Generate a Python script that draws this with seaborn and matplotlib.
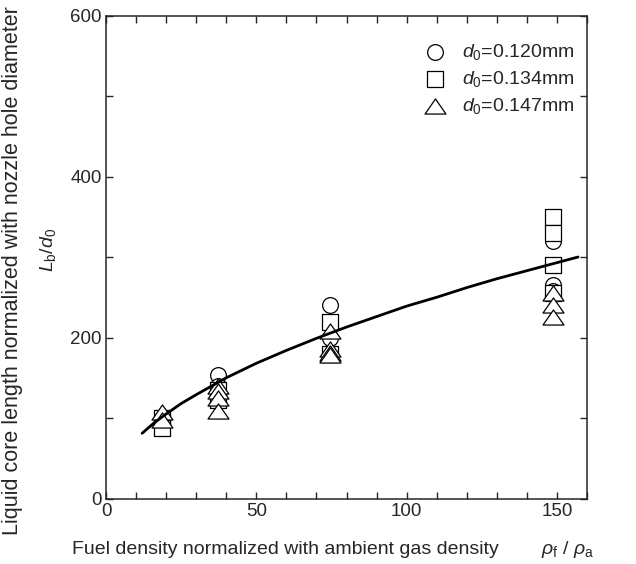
import matplotlib
matplotlib.use("Agg")
import numpy as np
import pandas as pd
import matplotlib.pyplot as plt
from matplotlib.path import Path
import seaborn as sns

# data (rho_f / rho_a , L_b / d_0)
circle_x = [18.6, 37.2, 37.2, 74.4, 74.4, 148.8, 148.8, 148.8]
circle_y = [95, 153, 140, 241, 200, 320, 265, 258]
square_x = [18.6, 18.6, 37.2, 37.2, 74.4, 74.4, 148.8, 148.8, 148.8, 148.8]
square_y = [100, 87, 135, 122, 219, 180, 350, 330, 290, 255]
tri_x = [18.6, 18.6, 37.2, 37.2, 37.2, 37.2, 74.4, 74.4, 74.4, 74.4, 148.8, 148.8, 148.8]
tri_y = [108, 97, 140, 133, 125, 109, 208, 186, 181, 178, 255, 240, 225]

# correlation curve
curve_x = [12, 16, 20, 25, 30, 40, 50, 60, 70, 80, 90, 100, 110, 120, 130, 140, 150, 157]
curve_y = [81, 94, 105, 118, 129, 150, 168, 184, 199, 213, 226, 239, 250, 262, 273, 283, 293, 300]

labels = [r"$d_0$=0.120mm", r"$d_0$=0.134mm", r"$d_0$=0.147mm"]

sns.set_style("ticks")
plt.rcParams["font.family"] = ["Liberation Sans", "DejaVu Sans"]
plt.rcParams["mathtext.fontset"] = "custom"
plt.rcParams["mathtext.rm"] = "Liberation Sans"
plt.rcParams["mathtext.it"] = "Liberation Sans:italic"

fig = plt.figure(figsize=(6.36, 5.64), dpi=100)
ax = fig.add_axes([0.1667, 0.1161, 0.7563, 0.8564])

tri = Path([(-1, -0.72), (1, -0.72), (0, 0.72), (-1, -0.72)], closed=True)
kw = dict(color="white", edgecolor="black", linewidth=0.9, ax=ax, zorder=3)
sns.scatterplot(x=circle_x, y=circle_y, marker="o", s=128, label=labels[0], **kw)
sns.scatterplot(x=square_x, y=square_y, marker="s", s=128, label=labels[1], **kw)
sns.scatterplot(x=tri_x, y=tri_y, marker=tri, s=228, label=labels[2], **kw)

sns.lineplot(x=curve_x, y=curve_y, color="black", linewidth=2, ax=ax, zorder=4)

ax.set_xlim(0, 160)
ax.set_ylim(0, 600)
ax.set_xticks(np.arange(0, 161, 10))
ax.set_xticklabels([str(v) if v % 50 == 0 else "" for v in range(0, 161, 10)])
ax.set_yticks(np.arange(0, 601, 100))
ax.set_yticklabels([str(v) if v % 200 == 0 else "" for v in range(0, 601, 100)])
ax.tick_params(direction="in", length=5, width=1, labelsize=13.5, pad=3,
               top=True, right=True)
for sp in ax.spines.values():
    sp.set_linewidth(1.1)
ax.set_xlabel("")
ax.set_ylabel("")

ax.legend(loc="upper left", bbox_to_anchor=(423 / 636, 1 - 42 / 564),
          bbox_transform=fig.transFigure, frameon=False, fontsize=14,
          handlelength=1.2, handletextpad=0.8, labelspacing=0.35,
          borderpad=0, borderaxespad=0)

fig.text(72 / 636, 1 - 549 / 564, "Fuel density normalized with ambient gas density",
         fontsize=14, ha="left", va="center")
fig.text(541 / 636, 1 - 549 / 564, r"$\rho_{\rm f}$ / $\rho_{\rm a}$",
         fontsize=14, ha="left", va="center")
fig.text(13 / 636, 1 - 271 / 564, "Liquid core length normalized with nozzle hole diameter",
         fontsize=15.5, rotation=90, ha="center", va="center")
fig.text(48 / 636, 1 - 250 / 564, r"$L_{\rm b}/d_0$",
         fontsize=14, rotation=90, ha="center", va="center")

fig.savefig("out.png", dpi=100)
